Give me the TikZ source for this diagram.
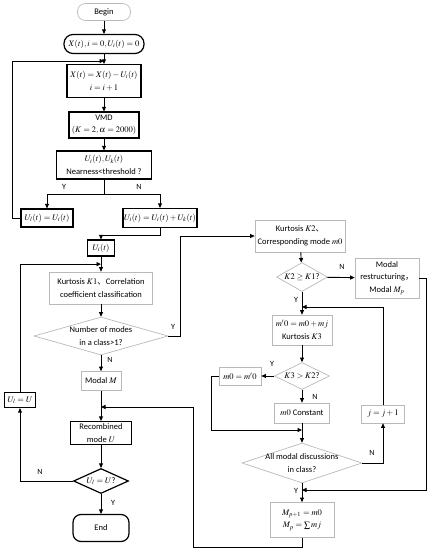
\documentclass[tikz,border=0pt]{standalone}
\usepackage{mathptmx}
\usepackage[no-math]{fontspec}
\setmainfont{Carlito}
\newfontfamily\cjk{Noto Sans CJK SC}
\usetikzlibrary{arrows.meta, shapes.geometric, calc}

\begin{document}
\begin{tikzpicture}[x=1pt, y=-1pt,
  font=\fontsize{8.5}{12.5}\selectfont,
  bbox/.style={draw, line width=1.2pt, align=center, inner sep=1pt},
  gbox/.style={draw=gray!55, line width=0.7pt, align=center, inner sep=1pt},
  term/.style={bbox, rounded corners=8pt},
  gdia/.style={draw=gray!55, line width=0.7pt, diamond, align=center, inner sep=-1pt},
  bdia/.style={draw, line width=1.2pt, diamond, align=center, inner sep=-1pt},
  flow/.style={-{Triangle[length=4.5pt, width=4pt]}, line width=0.9pt},
  yn/.style={font=\fontsize{8}{9}\selectfont},
]
\useasboundingbox (0,0) rectangle (432,550);

% Left column: decomposition loop
\node[term, draw=gray!55, line width=0.7pt, minimum width=53pt, minimum height=17pt] (begin) at (104,12) {Begin};
\node[term, rounded corners=9pt, minimum width=80pt, minimum height=19pt] (init) at (104,44) {$X(t),i=0,U_i(t)=0$};
\node[bbox, minimum width=74pt, minimum height=33pt] (upd) at (104,81) {$X(t)=X(t)-U_i(t)$\\$i=i+1$};
\node[bbox, minimum width=70pt, minimum height=26pt] (vmd) at (104,125) {VMD\\$(K=2,\alpha=2000)$};
\node[bbox, minimum width=95pt, minimum height=28pt] (near) at (104,165) {$U_i(t),U_k(t)$\\Nearness<threshold ?};
\node[bbox, minimum width=52pt, minimum height=18pt] (ul) at (47,218) {$U_l(t)=U_i(t)$};
\node[bbox, minimum width=74pt, minimum height=19pt] (uadd) at (160,218) {$U_i(t)=U_i(t)+U_k(t)$};
\node[bbox, minimum width=27pt, minimum height=16pt] (ui) at (101,248) {$U_i(t)$};
\coordinate (split) at (104,194);
\coordinate (loopin) at (104,61);

% Left column: classification and recombination
\node[gbox, minimum width=103pt, minimum height=32pt] (k1) at (101,288) {Kurtosis $K1${\cjk 、}Correlation\\coefficient classification};
\node[gdia, aspect=3.5, minimum width=134pt, minimum height=38pt] (num) at (101,336) {Number of modes\\in a class>1?};
\node[gbox, minimum width=40pt, minimum height=19pt] (modm) at (101,381) {Modal $M$};
\node[bbox, minimum width=61pt, minimum height=23pt] (rec) at (101,433) {Recombined\\mode $U$};
\node[bdia, aspect=2.2, minimum width=55pt, minimum height=25pt] (chk) at (101,481) {$U_l=U$?};
\node[term, minimum width=56pt, minimum height=27pt] (end) at (101,528) {End};
\node[bbox, minimum width=31pt, minimum height=15pt] (ulu) at (20,400) {$U_l=U$};

% Right column: mode merging
\node[gbox, minimum width=90pt, minimum height=32pt] (k2) at (300,236) {Kurtosis $K2${\cjk 、}\\Corresponding mode $m0$};
\node[gdia, aspect=1.76, minimum width=51pt, minimum height=29pt] (k2dia) at (302,277) {$K2\geq K1$?};
\node[gbox, minimum width=64pt, minimum height=40pt] (restr) at (387,278) {Modal\\restructuring{\cjk ，}\\Modal $M_p$};
\node[gbox, minimum width=60pt, minimum height=30pt] (mj) at (302,330) {$m'0=m0+mj$\\Kurtosis $K3$};
\node[gdia, aspect=2, minimum width=55pt, minimum height=27pt] (k3dia) at (302,376) {$K3>K2$?};
\node[gbox, minimum width=42pt, minimum height=18pt] (mset) at (240,376) {$m0=m'0$};
\node[gbox, minimum width=55pt, minimum height=20pt] (mc) at (302,413) {$m0$ Constant};
\node[gbox, minimum width=43pt, minimum height=18pt] (jinc) at (383,414) {$j=j+1$};
\node[gdia, aspect=3, inner sep=-3pt, minimum width=120pt, minimum height=40pt] (all) at (302,463) {All modal discussions\\in class?};
\node[gbox, minimum width=64pt, minimum height=35pt] (mp) at (302,520) {$M_{p+1}=m0$\\$M_p=\sum mj$};

% Connectors, left
\draw[flow] (begin) -- (init);
\draw[flow] (init) -- (upd);
\draw[flow] (upd) -- (vmd);
\draw[flow] (vmd) -- (near);
\draw[line width=0.9pt] (near) -- (split);
\draw[flow] (split) -| (ul);
\draw[flow] (split) -| (uadd);
\node[yn] at (64,187) {Y};
\node[yn] at (139,187) {N};
\draw[flow] (ul.west) -- ++(-8,0) |- (loopin);
\draw[flow] (uadd.south) -- ++(0,7) -| (ui);
\draw[flow] (ui) -- (k1);
\draw[flow] (k1) -- (num);
\draw[flow] (num.east) -- ++(12,0) |- (k2.west);
\node[yn] at (173,327) {Y};
\draw[flow] (num) -- (modm);
\node[yn] at (110,360) {N};
\draw[flow] (modm) -- (rec);
\draw[flow] (rec) -- (chk);
\draw[flow] (chk.west) -| (ulu.south);
\node[yn] at (40,472) {N};
\draw[flow] (ulu.north) |- ($(ui.south)!0.5!(k1.north)$);
\draw[flow] (chk) -- (end);
\node[yn] at (113,503) {Y};

% Connectors, right
\draw[flow] (k2) -- (k2dia);
\draw[flow] (k2dia) -- (restr);
\node[yn] at (342,267) {N};
\draw[flow] (k2dia) -- (mj);
\node[yn] at (296,300) {Y};
\draw[flow] (mj) -- (k3dia);
\draw[flow] (k3dia) -- (mset);
\node[yn] at (272,364) {Y};
\draw[flow] (k3dia) -- (mc);
\node[yn] at (315,397) {N};
\draw[flow] (mset.west) -- ++(-7,0) |- (302,430);
\draw[flow] (mc) -- (all);
\draw[flow] (all.east) -| (jinc.south);
\node[yn] at (372,453) {N};
\draw[flow] (jinc.north) |- (302,307);
\draw[flow] (restr.east) -- ++(7,0) |- (302,490);
\draw[flow] (all) -- (mp);
\node[yn] at (296,491) {Y};
\draw[flow] (mp.south) |- (193,547) |- (101,407);

\end{tikzpicture}
\end{document}
